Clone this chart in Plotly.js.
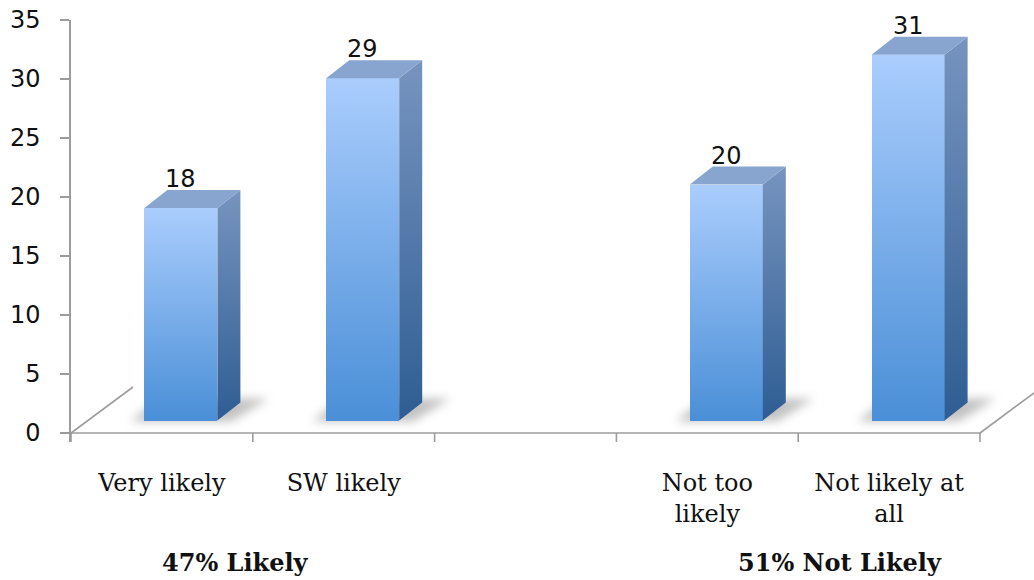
<!DOCTYPE html>
<html>
<head>
<meta charset="utf-8">
<script src="https://cdn.plot.ly/plotly-3.0.1.min.js"></script>
<style>
  html, body { margin: 0; padding: 0; background: #ffffff; }
  #chart { width: 1034px; height: 580px; }
</style>
</head>
<body>
<div id="chart"></div>
<script>
// Survey answers, one slot per column (the middle slot is an empty spacer)
const categories = ['Very likely', 'SW likely', '', 'Not too<br>likely', 'Not likely at<br>all'];
const responses = [18, 29, null, 20, 31];
const yTicks = [0, 5, 10, 15, 20, 25, 30, 35];
// Group captions are built from the sum of their columns
const groupNames = ['Likely', 'Not Likely'];
const groupMembers = [[0, 1], [3, 4]];
const groupCaptionX = [0.1713, 0.7986];

// Page geometry
const W = 1034, H = 580;
const M = { l: 71, r: 0, t: 20, b: 138 };
const plotW = W - M.l - M.r;
const plotH = H - M.t - M.b;
const yMax = 35;
const pxPerUnit = 11.8;
const yMin = yMax - plotH / pxPerUnit;
const catPx = 181.8;
const xMin = -0.5, xMax = xMin + plotW / catPx;
const px2x = p => p / catPx;
const px2y = p => p / pxPerUnit;

// Pseudo-3D box dimensions
const lift = px2y(12.5);          // bars stand a little back on the floor
const barShift = px2x(19);
const barWidth = px2x(73);
const depthX = px2x(23), depthY = px2y(18);
const floorDX = px2x(62), floorDY = px2y(46);

const grey = '#9c9c9c';
const serif = 'DejaVu Serif';
const sans = 'DejaVu Sans';

const shown = responses.map((v, i) => i).filter(i => responses[i] !== null);

const traces = [];
// Front faces
traces.push({
  type: 'bar',
  x: shown.map(i => i + barShift),
  y: shown.map(i => responses[i]),
  base: lift,
  width: barWidth,
  marker: { color: '#72a8e8', line: { width: 0 } },
  hoverinfo: 'skip',
  showlegend: false
});

shown.forEach(i => {
  const v = responses[i];
  const xl = i + barShift - barWidth / 2;
  const xr = i + barShift + barWidth / 2;
  const b = lift, t = lift + v;
  // Right side face
  traces.push({
    type: 'scatter', mode: 'lines',
    x: [xr, xr + depthX, xr + depthX, xr, xr],
    y: [b, b + depthY, t + depthY, t, b],
    fill: 'toself',
    fillgradient: { type: 'vertical', colorscale: [[0, '#2e5d93'], [1, '#7794bf']] },
    line: { width: 0 },
    hoverinfo: 'skip', showlegend: false
  });
  // Top face
  traces.push({
    type: 'scatter', mode: 'lines',
    x: [xl, xr, xr + depthX, xl + depthX, xl],
    y: [t, t, t + depthY, t + depthY, t],
    fill: 'toself',
    fillcolor: '#87a5cf',
    line: { width: 0 },
    hoverinfo: 'skip', showlegend: false
  });
});

// Soft floor shadows, floor outline and column boundary ticks
const shapes = [];
const shadowIdx = [];
shown.forEach(i => {
  const xl = i + barShift - barWidth / 2;
  const xr = i + barShift + barWidth / 2;
  const b = lift - px2y(1);
  const pts = [
    [xl - px2x(14), b],
    [xr + px2x(14), b],
    [xr + depthX + px2x(28), b + depthY + px2y(5)],
    [xl + depthX - px2x(8), b + depthY + px2y(5)]
  ];
  shadowIdx.push(shapes.length);
  shapes.push({
    type: 'path', layer: 'below', xref: 'x', yref: 'y',
    path: 'M' + pts.map(p => p[0] + ',' + p[1]).join('L') + 'Z',
    fillcolor: 'rgba(0,0,0,0.24)', line: { width: 0 }
  });
});
const lineStyle = { color: grey, width: 1.6 };
shapes.push({ type: 'line', layer: 'below', xref: 'x', yref: 'y', x0: -0.5, x1: 4.5, y0: 0, y1: 0, line: lineStyle });
[-0.5, 4.5].forEach(x0 => {
  shapes.push({ type: 'line', layer: 'below', xref: 'x', yref: 'y', x0: x0, x1: x0 + floorDX, y0: 0, y1: floorDY, line: lineStyle });
});
for (let k = 0; k <= categories.length; k++) {
  const xb = k - 0.5;
  shapes.push({ type: 'line', layer: 'below', xref: 'x', yref: 'y', x0: xb, x1: xb, y0: 0, y1: yMin, line: lineStyle });
}

// Value labels and group captions
const annotations = shown.map(i => ({
  x: i + barShift, y: lift + responses[i], xref: 'x', yref: 'y',
  text: String(responses[i]), showarrow: false,
  xanchor: 'center', yanchor: 'bottom', yshift: 13,
  font: { family: sans, size: 24, color: '#111111' }
}));
groupNames.forEach((name, g) => {
  const total = groupMembers[g].reduce((s, i) => s + responses[i], 0);
  annotations.push({
    x: groupCaptionX[g], y: -(562 - (M.t + plotH)) / plotH,
    xref: 'paper', yref: 'paper', showarrow: false,
    xanchor: 'center', yanchor: 'middle',
    text: '<b>' + total + '% ' + name + '</b>',
    font: { family: serif, size: 24, color: '#111111' }
  });
});

const layout = {
  width: W, height: H,
  margin: M,
  paper_bgcolor: '#ffffff',
  plot_bgcolor: '#ffffff',
  showlegend: false,
  bargap: 0,
  xaxis: {
    range: [xMin, xMax], fixedrange: true,
    tickmode: 'array', tickvals: categories.map((c, i) => i), ticktext: categories,
    ticks: '', tickangle: 0, showline: false, showgrid: false, zeroline: false,
    ticklabelstandoff: 24,
    tickfont: { family: serif, size: 24, color: '#111111' }
  },
  yaxis: {
    range: [yMin, yMax], fixedrange: true,
    tickmode: 'array', tickvals: yTicks,
    ticks: 'outside', ticklen: 9, tickwidth: 1.6, tickcolor: grey,
    showline: true, linecolor: grey, linewidth: 1.6,
    showgrid: false, zeroline: false,
    ticklabelstandoff: 15,
    tickfont: { family: sans, size: 24, color: '#111111' }
  },
  shapes: shapes,
  annotations: annotations
};

const gd = document.getElementById('chart');
Plotly.newPlot(gd, traces, layout, { staticPlot: true, displayModeBar: false }).then(() => {
  const NS = 'http://www.w3.org/2000/svg';
  const defs = gd.querySelector('svg.main-svg defs');
  // Vertical light-to-dark shading for the front faces
  const grad = document.createElementNS(NS, 'linearGradient');
  grad.setAttribute('id', 'barFrontShade');
  grad.setAttribute('x1', '0'); grad.setAttribute('y1', '0');
  grad.setAttribute('x2', '0'); grad.setAttribute('y2', '1');
  [['0', '#aacdfd'], ['1', '#4a8fd7']].forEach(([o, c]) => {
    const s = document.createElementNS(NS, 'stop');
    s.setAttribute('offset', o); s.setAttribute('stop-color', c);
    grad.appendChild(s);
  });
  defs.appendChild(grad);
  // Blur for the floor shadows
  const filt = document.createElementNS(NS, 'filter');
  filt.setAttribute('id', 'floorShadowBlur');
  filt.setAttribute('x', '-50%'); filt.setAttribute('y', '-50%');
  filt.setAttribute('width', '200%'); filt.setAttribute('height', '200%');
  const blur = document.createElementNS(NS, 'feGaussianBlur');
  blur.setAttribute('stdDeviation', '5');
  filt.appendChild(blur);
  defs.appendChild(filt);

  gd.querySelectorAll('.barlayer .point path').forEach(p => { p.style.fill = 'url(#barFrontShade)'; });
  gd.querySelectorAll('.shapelayer path').forEach(p => {
    const idx = Number(p.getAttribute('data-index'));
    if (shadowIdx.includes(idx)) p.setAttribute('filter', 'url(#floorShadowBlur)');
  });
});
</script>
</body>
</html>
